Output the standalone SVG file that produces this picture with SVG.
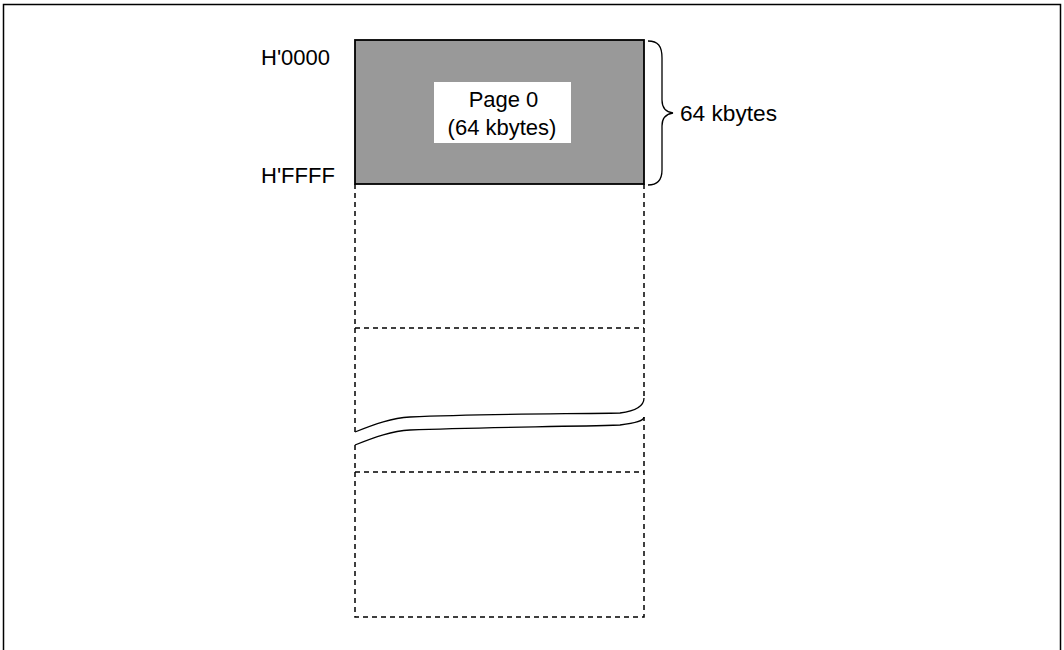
<svg xmlns="http://www.w3.org/2000/svg" width="1064" height="650" viewBox="0 0 1064 650">
<style>
text{font-family:"Liberation Sans",Arial,sans-serif;font-size:22px;fill:#000}
.dash{fill:none;stroke:#000;stroke-width:1.5;stroke-dasharray:5 4}
.solid{fill:none;stroke:#000;stroke-width:1.3}
</style>
<rect width="1064" height="650" fill="#fff"/>
<path d="M3.5 650 V4.5 H1060.5 V650" fill="none" stroke="#000" stroke-width="1.5"/>
<g id="page0">
<rect x="355" y="40" width="289" height="144" fill="#999999" stroke="#000" stroke-width="1.8"/>
<rect x="434" y="82" width="137" height="61" fill="#fff"/>
<text x="503.5" y="107" text-anchor="middle">Page 0</text>
<text x="502" y="135" text-anchor="middle">(64 kbytes)</text>
</g>
<g id="addresses">
<text x="261" y="65">H'0000</text>
<text x="261" y="183">H'FFFF</text>
</g>
<g id="brace">
<path class="solid" d="M648 41 C658 41 662 46 662 58 V100 C662 108 666 112 673 113 C666 114 662 118 662 126 V170 C662 180 658 185 648 185"/>
<text x="680" y="121" textLength="97" lengthAdjust="spacingAndGlyphs">64 kbytes</text>
</g>
<g id="pages">
<path class="dash" d="M355 184 V432"/>
<path class="dash" d="M644 184 V398"/>
<path class="dash" d="M355 328 H644"/>
<path class="dash" d="M355 445 V617 H644 V417"/>
<path class="dash" d="M355 472 H644"/>
</g>
<g id="break">
<path class="solid" d="M355 432 C375 424 392 418 410 417 C480 414 560 414 620 413 C636 411 644 406 644 398"/>
<path class="solid" d="M355 445 C375 437 392 431 410 430 C480 427 560 427 620 425 C636 423 644 421 644 417"/>
</g>
</svg>
